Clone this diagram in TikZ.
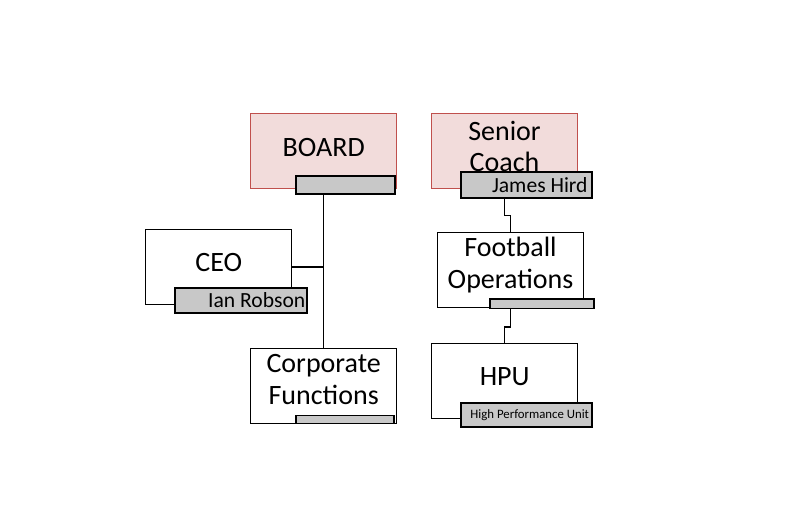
\documentclass[tikz,border=0pt]{standalone}
\usepackage{fontspec}
\setmainfont{Carlito}
\usepackage{tikz}
\usetikzlibrary{positioning, calc}
\definecolor{leadred}{RGB}{192,80,77}
\definecolor{leadpink}{RGB}{242,220,219}
\definecolor{tabgrey}{RGB}{200,200,200}

\begin{document}
\begin{tikzpicture}[
    x=0.75pt, y=0.75pt,
    unit/.style={rectangle, draw, line width=1pt, fill=white, minimum width=109.5pt, minimum height=56.25pt},
    lead/.style={unit, draw=leadred, fill=leadpink, line width=0.8pt},
    caption/.style={font=\fontsize{21}{23.7}\selectfont, align=center, inner sep=0pt},
    tab/.style={rectangle, draw, line width=1.3pt, fill=tabgrey, inner sep=0pt},
    who/.style={font=\fontsize{16.2}{18}\selectfont, anchor=east, inner sep=0pt},
    link/.style={line width=1.15pt},
]
\useasboundingbox (0,0) rectangle (796,-525);

% left column
\node[lead] (board) at (323.7,-151.3) {};
\node[caption] (board-t) at ([yshift=3pt]board.center) {BOARD};
\node[tab, minimum width=74.5pt, minimum height=13.5pt] (boardtab) at (345.3,-185) {};

\node[unit] (ceo) at (218.7,-267) {};
\node[caption] (ceo-t) at ([yshift=3.4pt]ceo.center) {CEO};
\node[tab, minimum width=98.8pt, minimum height=18.7pt] (ceotab) at (240.8,-300.5) {};
\node[who] (ceo-n) at ([xshift=-1.5pt]ceotab.east) {Ian Robson};

\node[unit] (corp) at (323.7,-385.8) {};
\node[caption] (corp-t) at ([yshift=4.5pt]corp.center) {Corporate\\Functions};
\node[tab, minimum width=73.5pt, minimum height=6pt] (corptab) at (345,-419.5) {};

% right column
\node[lead] (senior) at (504.5,-151.2) {};
\node[caption] (senior-t) at ([yshift=3.4pt]senior.center) {Senior\\Coach};
\node[tab, minimum width=98.7pt, minimum height=19.5pt] (sctab) at (526.5,-184.7) {};
\node[who] (sc-n) at ([xshift=-4pt]sctab.east) {James Hird};

\node[unit] (football) at (510.5,-270) {};
\node[caption] (football-t) at ([yshift=3.8pt]football.center) {Football\\Operations};
\node[tab, minimum width=78.2pt, minimum height=7pt] (fotab) at (542.2,-303.7) {};

\node[unit] (hpu) at (504.7,-381) {};
\node[caption] (hpu-t) at ([yshift=3.4pt]hpu.center) {HPU};
\node[tab, minimum width=98.3pt, minimum height=18.5pt] (hputab) at (526.2,-415) {};
\node[who, font=\fontsize{9.6}{11}\selectfont] (hpu-n) at ([xshift=-2.5pt]hputab.east) {High Performance Unit};

% reporting lines
\draw[link] (board.center |- boardtab.south) -- (corp.north);
\draw[link] (ceo.east) -- (ceo.east -| board.center);
\draw[link] (senior.center |- sctab.south) -- ++(0,-17) -| (football.north);
\draw[link] (football.center |- fotab.south) -- ++(0,-17.6) -| (hpu.north);

\end{tikzpicture}
\end{document}
